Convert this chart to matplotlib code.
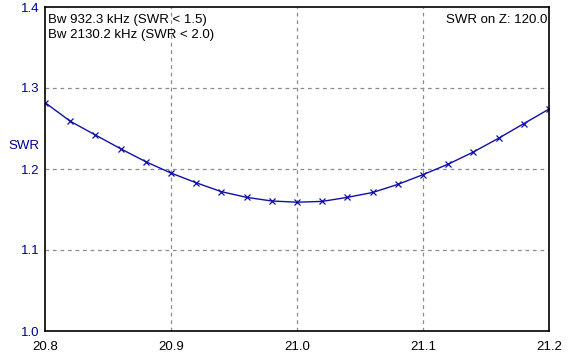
import matplotlib
matplotlib.use("Agg")
import matplotlib.pyplot as plt

freq = [20.80, 20.82, 20.84, 20.86, 20.88, 20.90, 20.92, 20.94, 20.96, 20.98, 21.00,
        21.02, 21.04, 21.06, 21.08, 21.10, 21.12, 21.14, 21.16, 21.18, 21.20]
swr = [1.282, 1.259, 1.242, 1.225, 1.209, 1.195, 1.183, 1.172, 1.165, 1.1605, 1.159,
       1.160, 1.165, 1.171, 1.181, 1.193, 1.206, 1.221, 1.238, 1.256, 1.274]
xticks = [20.8, 20.9, 21.0, 21.1, 21.2]
yticks = [1.0, 1.1, 1.2, 1.3, 1.4]
info_left = ["Bw 932.3 kHz (SWR < 1.5)", "Bw 2130.2 kHz (SWR < 2.0)"]
info_right = "SWR on Z: 120.0"

plt.rcParams['font.family'] = ['Liberation Sans', 'DejaVu Sans']
W, H = 573, 356
fig = plt.figure(figsize=(W / 100, H / 100), dpi=100)
ax = fig.add_axes([45 / W, (H - 331) / H, (549 - 45) / W, (331 - 7) / H])

line_c = '#1010A8'
ax.plot(freq, swr, color=line_c, lw=1.0, marker='x', ms=5, mew=0.9)

ax.set_xlim(20.8, 21.2)
ax.set_ylim(1.0, 1.4)
ax.set_xticks(xticks)
ax.set_xticklabels([f"{v:.1f}" for v in xticks])
ax.set_yticks(yticks)
ax.set_yticklabels([f"{v:.1f}" for v in yticks])
ax.tick_params(axis='both', length=0, labelsize=9.5)
ax.tick_params(axis='x', pad=7, colors='black')
ax.tick_params(axis='y', pad=4, labelcolor='#00008B')

for v in xticks[1:-1]:
    ax.axvline(v, color='#8c8c8c', lw=0.9, ls=(0, (3, 3)), zorder=0)
for v in yticks[1:-1]:
    ax.axhline(v, color='#8c8c8c', lw=0.9, ls=(0, (3, 3)), zorder=0)

for s in ax.spines.values():
    s.set_linewidth(1.2)
    s.set_color('black')

fig.text(8 / W, 1 - 146 / H, "SWR", color='#00008B', fontsize=9.5, va='center', ha='left')
fig.text(48 / W, 1 - 14 / H, info_left[0] + "\n" + info_left[1],
         fontsize=9.5, va='top', ha='left', linespacing=1.3)
fig.text(547 / W, 1 - 14 / H, info_right, fontsize=9.5, va='top', ha='right')

fig.savefig("out.png", dpi=100)
